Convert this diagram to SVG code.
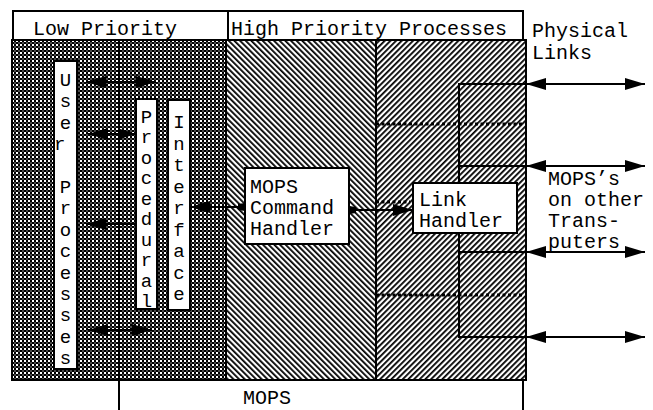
<svg xmlns="http://www.w3.org/2000/svg" width="653" height="410" viewBox="0 0 653 410">
  <defs>
    <style>
      .t { font-family: "Liberation Mono", "Courier New", monospace; font-size: 20px; fill: #000; }
      .v { font-family: "Liberation Mono", "Courier New", monospace; font-size: 19px; fill: #000; text-anchor: middle; }
      .box { fill: #fff; stroke: #000; stroke-width: 2; }
      .ln { fill: none; stroke: #000; stroke-width: 2; }
      .dot { fill: none; stroke: #000; stroke-width: 3; stroke-dasharray: 3 2.5; }
      .arr { fill: none; stroke: #000; stroke-width: 2; }
    </style>
    <!-- dark checkerboard for the low priority area -->
    <pattern id="checker" width="4" height="4" patternUnits="userSpaceOnUse">
      <rect width="4" height="4" fill="#000"/>
      <rect x="0" y="0" width="2" height="2" fill="#fff"/>
      <rect x="2" y="2" width="2" height="2" fill="#4a4a4a"/>
    </pattern>
    <!-- back-slash hatching -->
    <pattern id="hatchBack" width="4" height="4" patternUnits="userSpaceOnUse" patternTransform="rotate(-45)">
      <rect width="4" height="4" fill="#fff"/>
      <rect width="1.8" height="4" fill="#000"/>
    </pattern>
    <!-- forward-slash hatching -->
    <pattern id="hatchFwd" width="4" height="4" patternUnits="userSpaceOnUse" patternTransform="rotate(45)">
      <rect width="4" height="4" fill="#fff"/>
      <rect width="1.8" height="4" fill="#000"/>
    </pattern>
    <marker id="head" markerUnits="userSpaceOnUse" viewBox="0 0 20 12" markerWidth="20" markerHeight="12" refX="20" refY="6" orient="auto-start-reverse">
      <path d="M0,0 L20,6 L0,12 Z" fill="#000"/>
    </marker>
    <marker id="headMid" markerUnits="userSpaceOnUse" viewBox="0 0 16 10" markerWidth="16" markerHeight="10" refX="16" refY="5" orient="auto-start-reverse">
      <path d="M0,0 L16,5 L0,10 Z" fill="#000"/>
    </marker>
    <marker id="nub" markerUnits="userSpaceOnUse" viewBox="0 0 7 8" markerWidth="7" markerHeight="8" refX="7" refY="4" orient="auto-start-reverse">
      <path d="M0,1 L7,0 L7,8 L0,7 Z" fill="#000"/>
    </marker>
  </defs>

  <rect width="653" height="410" fill="#fff"/>

  <!-- shaded priority areas -->
  <g id="areas">
    <rect x="12" y="40" width="214" height="340" fill="url(#checker)"/>
    <rect x="226" y="40" width="150" height="340" fill="url(#hatchBack)"/>
    <rect x="376" y="40" width="150" height="340" fill="url(#hatchFwd)"/>
    <rect x="12" y="40" width="514" height="340" class="ln"/>
    <line x1="119" y1="40" x2="119" y2="410" class="ln"/>
    <line x1="226" y1="40" x2="226" y2="380" class="ln"/>
    <line x1="376" y1="40" x2="376" y2="380" class="ln"/>
    <line x1="523" y1="380" x2="523" y2="410" class="ln"/>
  </g>

  <!-- headers -->
  <g id="low-priority">
    <rect x="13" y="11" width="215" height="29" class="box"/>
    <text x="33" y="35" class="t">Low Priority</text>
  </g>
  <g id="high-priority">
    <rect x="228" y="11" width="295" height="29" class="box"/>
    <text x="231" y="35" class="t">High Priority Processes</text>
  </g>

  <!-- link wiring inside the high priority area -->
  <g id="link-lines">
    <line x1="376" y1="124" x2="523" y2="124" class="dot"/>
    <line x1="376" y1="295" x2="523" y2="295" class="dot"/>
    <line x1="376" y1="202" x2="410" y2="202" class="dot"/>
    <polyline points="526,84 459,84 459,337 526,337" class="ln"/>
    <line x1="459" y1="166" x2="526" y2="166" class="ln"/>
    <line x1="459" y1="252" x2="526" y2="252" class="ln"/>
  </g>

  <g id="user-processes">
    <rect x="54" y="61" width="23" height="308" class="box"/>
    <text class="v">
      <tspan x="65.5" y="86">U</tspan><tspan x="65.5" y="107.4">s</tspan><tspan x="65.5" y="128.8">e</tspan><tspan x="65.5" y="150.2">r</tspan>
      <tspan x="65.5" y="193">P</tspan><tspan x="65.5" y="214.4">r</tspan><tspan x="65.5" y="235.8">o</tspan><tspan x="65.5" y="257.2">c</tspan><tspan x="65.5" y="278.6">e</tspan><tspan x="65.5" y="300">s</tspan><tspan x="65.5" y="321.4">s</tspan><tspan x="65.5" y="342.8">e</tspan><tspan x="65.5" y="364.2">s</tspan>
    </text>
  </g>

  <g id="procedural">
    <rect x="136" y="99" width="21" height="210" class="box"/>
    <text class="v">
      <tspan x="146.5" y="123">P</tspan><tspan x="146.5" y="143.4">r</tspan><tspan x="146.5" y="163.9">o</tspan><tspan x="146.5" y="184.3">c</tspan><tspan x="146.5" y="204.8">e</tspan><tspan x="146.5" y="225.2">d</tspan><tspan x="146.5" y="245.6">u</tspan><tspan x="146.5" y="266.1">r</tspan><tspan x="146.5" y="286.5">a</tspan><tspan x="146.5" y="307">l</tspan>
    </text>
  </g>

  <g id="interface">
    <rect x="168" y="100" width="22" height="210" class="box"/>
    <text class="v">
      <tspan x="179" y="128">I</tspan><tspan x="179" y="149.5">n</tspan><tspan x="179" y="171">t</tspan><tspan x="179" y="192.5">e</tspan><tspan x="179" y="214">r</tspan><tspan x="179" y="235.5">f</tspan><tspan x="179" y="257">a</tspan><tspan x="179" y="278.5">c</tspan><tspan x="179" y="300">e</tspan>
    </text>
  </g>

  <g id="mops-command-handler">
    <rect x="245" y="168" width="104" height="76" class="box"/>
    <text class="t"><tspan x="250" y="193">MOPS</tspan><tspan x="250" y="214">Command</tspan><tspan x="250" y="235">Handler</tspan></text>
  </g>

  <g id="link-handler">
    <rect x="413" y="183" width="104" height="50" class="box"/>
    <text class="t"><tspan x="419" y="206">Link</tspan><tspan x="419" y="227">Handler</tspan></text>
  </g>

  <g id="labels">
    <text class="t"><tspan x="532" y="37">Physical</tspan><tspan x="532" y="59">Links</tspan></text>
    <text class="t"><tspan x="548" y="185">MOPS’s</tspan><tspan x="548" y="206">on other</tspan><tspan x="548" y="227">Trans-</tspan><tspan x="548" y="248">puters</tspan></text>
    <text x="243" y="404" class="t">MOPS</text>
  </g>

  <!-- connectors -->
  <g id="connectors">
    <line x1="86" y1="82" x2="156" y2="82" class="arr" marker-start="url(#head)" marker-end="url(#head)"/>
    <line x1="88" y1="134" x2="136" y2="134" class="arr" marker-start="url(#head)" marker-end="url(#headMid)"/>
    <line x1="86" y1="224" x2="136" y2="224" class="arr" marker-start="url(#head)"/>
    <line x1="88" y1="330" x2="152" y2="330" class="arr" marker-start="url(#head)" marker-end="url(#head)"/>
    <line x1="190" y1="207" x2="245" y2="207" class="arr" marker-start="url(#head)" marker-end="url(#nub)"/>
    <line x1="349" y1="210" x2="413" y2="210" class="arr" marker-start="url(#nub)" marker-end="url(#head)"/>
    <line x1="526" y1="84" x2="645" y2="84" class="arr" marker-start="url(#head)" marker-end="url(#head)"/>
    <line x1="526" y1="166" x2="645" y2="166" class="arr" marker-start="url(#head)" marker-end="url(#head)"/>
    <line x1="526" y1="252" x2="645" y2="252" class="arr" marker-start="url(#head)" marker-end="url(#head)"/>
    <line x1="526" y1="337" x2="645" y2="337" class="arr" marker-start="url(#head)" marker-end="url(#head)"/>
  </g>
</svg>
